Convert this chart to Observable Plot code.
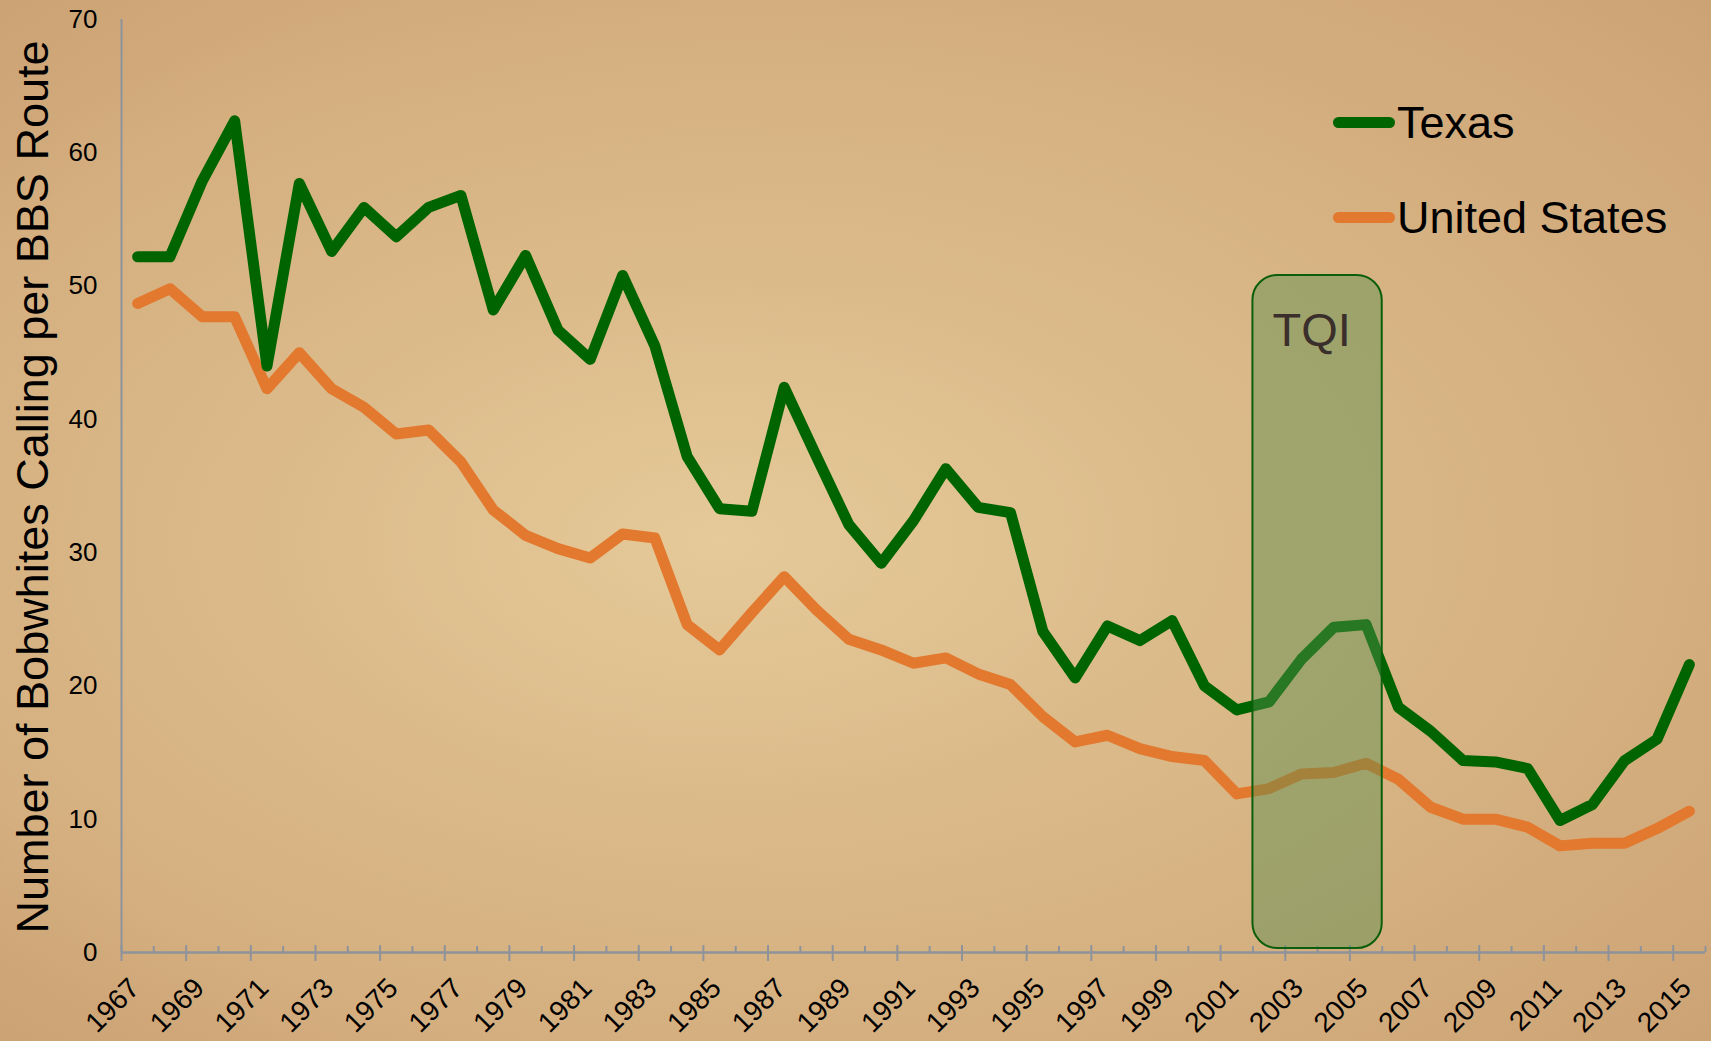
<!DOCTYPE html>
<html>
<head>
<meta charset="utf-8">
<script src="https://cdn.jsdelivr.net/npm/d3@7"></script>
<script src="https://cdn.jsdelivr.net/npm/@observablehq/plot@0.6"></script>
<style>
  html, body { margin: 0; padding: 0; }
  body {
    width: 1711px; height: 1041px; overflow: hidden; position: relative;
    font-family: "Liberation Sans", Arial, sans-serif;
    background:
      radial-gradient(ellipse 60% 55% at 42% 52%, rgba(232,205,156,0.85) 0%, rgba(226,196,148,0.5) 45%, rgba(226,196,148,0) 100%),
      radial-gradient(ellipse 80% 80% at 50% 50%, #d8b685 0%, #d2ab7c 70%, #c79d70 100%);
  }
  #chart { position: absolute; left: 0; top: 0; }
  .ytitle {
    position: absolute; left: 32px; top: 487px;
    transform: translate(-50%, -50%) rotate(-90deg);
    white-space: nowrap; font-size: 45px; color: #000; line-height: 1;
  }
  .legend-item {
    position: absolute; left: 1333px; height: 50px;
    display: flex; align-items: center; font-size: 45px; color: #000; line-height: 1;
  }
  .legend-item .sw { width: 62px; height: 11px; border-radius: 6px; margin-right: 2px; }
</style>
</head>
<body>
<div id="chart"></div>
<div class="ytitle" id="ytitle"></div>
<div id="legend"></div>
<script>
// ---- data ----
const years = [1967,1968,1969,1970,1971,1972,1973,1974,1975,1976,1977,1978,1979,1980,1981,1982,1983,1984,1985,1986,1987,1988,1989,1990,1991,1992,1993,1994,1995,1996,1997,1998,1999,2000,2001,2002,2003,2004,2005,2006,2007,2008,2009,2010,2011,2012,2013,2014,2015];
const texas = [52.2,52.2,57.9,62.4,44.0,57.7,52.6,55.9,53.7,55.9,56.8,48.2,52.3,46.7,44.5,50.8,45.5,37.2,33.3,33.1,42.4,37.2,32.1,29.2,32.4,36.3,33.4,33.0,24.1,20.6,24.5,23.4,24.9,20.0,18.2,18.8,22.0,24.4,24.6,18.4,16.6,14.4,14.3,13.8,9.9,11.1,14.4,16.0,21.6];
const unitedStates = [48.7,49.8,47.7,47.7,42.3,45.0,42.3,40.9,38.9,39.2,36.8,33.2,31.3,30.3,29.6,31.4,31.1,24.6,22.7,25.5,28.2,25.7,23.5,22.7,21.7,22.1,20.9,20.1,17.7,15.8,16.3,15.3,14.7,14.4,11.9,12.3,13.4,13.5,14.2,13.0,10.9,10.0,10.0,9.4,8.0,8.2,8.2,9.3,10.6];
const seriesNames = ["Texas", "United States"];
const seriesColors = ["#006400", "#e2792e"];
const xTickLabels = [1967,1969,1971,1973,1975,1977,1979,1981,1983,1985,1987,1989,1991,1993,1995,1997,1999,2001,2003,2005,2007,2009,2011,2013,2015];
const yTicks = [0,10,20,30,40,50,60,70];
const yTitle = "Number of Bobwhites Calling per BBS Route";
const tqiLabel = "TQI";
const tqiStartYear = 2002;
const tqiEndYear = 2005;
const tqiTop = 50.8;
const tqiBottom = 0.3;

// ---- derived tables ----
const rows = [];
years.forEach((yr, i) => {
  rows.push({year: yr, value: unitedStates[i], series: seriesNames[1]});
});
years.forEach((yr, i) => {
  rows.push({year: yr, value: texas[i], series: seriesNames[0]});
});
const boundaries = years.map(y => y - 0.5).concat([years[years.length - 1] + 0.5]);
const majorTicks = boundaries.filter((b, i) => i % 2 === 0 && i < boundaries.length - 1);
const minorTicks = boundaries.filter((b, i) => i % 2 === 1 || i === boundaries.length - 1);
const tqi = [{x1: tqiStartYear - 0.5, x2: tqiEndYear + 0.5, y1: tqiBottom, y2: tqiTop, label: tqiLabel}];

const axisColor = "#8e939b";

const chart = Plot.plot({
  width: 1711,
  height: 1041,
  marginLeft: 121,
  marginRight: 6,
  marginTop: 19,
  marginBottom: 89,
  x: {domain: [years[0] - 0.5, years[years.length - 1] + 0.5], axis: null},
  y: {domain: [0, 70], axis: null},
  color: {domain: seriesNames, range: seriesColors},
  style: {background: "transparent", fontFamily: "Liberation Sans, Arial, sans-serif", color: "#000", overflow: "visible"},
  marks: [
    // axes lines
    Plot.ruleX([years[0] - 0.5], {y1: 0, y2: 70, stroke: axisColor, strokeWidth: 2}),
    Plot.ruleY([0], {stroke: axisColor, strokeWidth: 2.5}),
    Plot.ruleX(majorTicks, {y1: -0.67, y2: 0.52, stroke: axisColor, strokeWidth: 2}),
    Plot.ruleX(minorTicks, {y1: 0, y2: 0.45, stroke: axisColor, strokeWidth: 2}),
    // y tick labels
    Plot.axisY({ticks: yTicks, tickSize: 0, tickPadding: 24, fontSize: 26, label: null, tickFormat: d => String(d)}),
    // x tick labels
    Plot.text(xTickLabels, {x: d => d, y: 0, text: d => String(d), rotate: -45, textAnchor: "end", lineAnchor: "middle", dy: 31, dx: -3, fontSize: 28, fill: "#000"}),
    // lines
    Plot.line(rows, {x: "year", y: "value", z: "series", stroke: "series", strokeWidth: 11, strokeLinejoin: "round", strokeLinecap: "round"}),
    // TQI box
    Plot.rect(tqi, {x1: "x1", x2: "x2", y1: "y1", y2: "y2", rx: 25, fill: "#598f4d", fillOpacity: 0.45, stroke: "#0b5e0b", strokeWidth: 2}),
    Plot.text(tqi, {x: d => (d.x1 + d.x2) / 2, y: "y2", text: "label", dy: 56, dx: -6, fontSize: 47, fill: "#3b2f2b"})
  ]
});
document.getElementById("chart").appendChild(chart);

document.getElementById("ytitle").textContent = yTitle;

const legend = document.getElementById("legend");
const legendCenters = [122, 217];
seriesNames.forEach((name, i) => {
  const item = document.createElement("div");
  item.className = "legend-item";
  item.style.top = (legendCenters[i] - 25) + "px";
  const sw = document.createElement("span");
  sw.className = "sw";
  sw.style.background = seriesColors[i];
  const label = document.createElement("span");
  label.textContent = name;
  item.appendChild(sw);
  item.appendChild(label);
  legend.appendChild(item);
});
</script>
</body>
</html>
